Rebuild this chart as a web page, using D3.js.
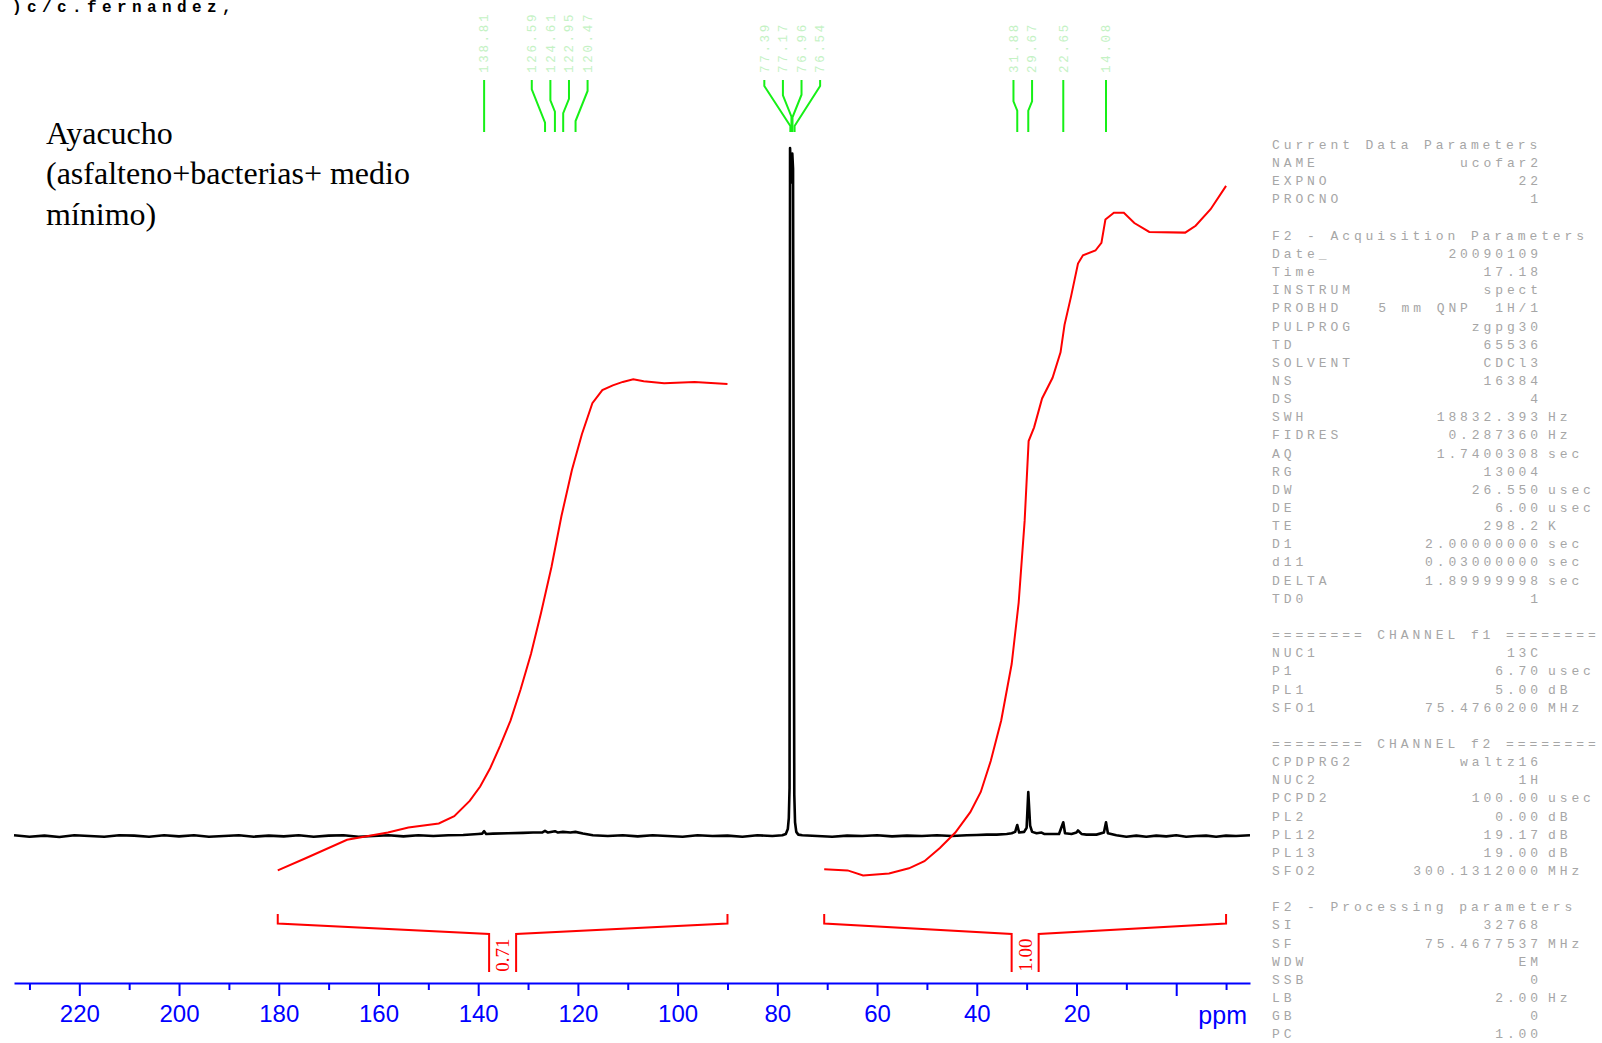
<!DOCTYPE html>
<html>
<head>
<meta charset="utf-8">
<script src="https://cdn.jsdelivr.net/npm/d3@7"></script>
<style>
  html, body { margin: 0; padding: 0; background: #fff; overflow: hidden; }
  svg { display: block; }
  .param { font-family: "Liberation Mono", "DejaVu Sans Mono", monospace; font-size: 13px; letter-spacing: 3.9px; fill: #a6a6a6; white-space: pre; }
</style>
</head>
<body>
<svg id="chart" width="1602" height="1043"></svg>
<script>
// ---- 13C spectrum: [ppm, intensity] (baseline = 0, solvent line = 100)
const spectrum = [
  [233.1, 0.1], [230, -0.1], [227, 0.05], [224, -0.15], [221, 0.1], [218, 0], [215, -0.1],
  [212, 0.1], [209, 0.05], [206, -0.1], [203, 0.1], [200, -0.05], [197, 0.1], [194, -0.1],
  [191, 0], [188, 0.1], [185, -0.1], [182, 0.05], [179, -0.05], [176, 0.1], [173, -0.1],
  [170, 0.05], [167, 0.1], [164, -0.1], [161, 0], [158, 0.1], [155, -0.05], [152, 0.1],
  [149, 0], [146, 0.1], [143, 0.15], [140, 0.3], [139.2, 0.35], [138.8, 0.7], [138.4, 0.3],
  [137, 0.35], [134, 0.4], [131, 0.45], [129, 0.5], [127.2, 0.5], [126.6, 0.75], [126, 0.5],
  [124.6, 0.7], [124, 0.5], [123, 0.6], [121.5, 0.5], [120.5, 0.6], [119, 0.35], [117, 0.1],
  [114, 0], [111, 0.1], [108, -0.05], [105, 0.1], [102, 0], [99, -0.1], [96, 0.1], [93, 0],
  [90, 0.05], [87, -0.1], [84, 0.1], [81, 0], [79, 0.1], [78.3, 0.3], [77.9, 1.0],
  [77.7, 2.6], [77.55, 7], [77.45, 100], [77.3, 97], [77.15, 95], [77.0, 99.2], [76.85, 97],
  [76.7, 40], [76.6, 6], [76.45, 2], [76.2, 0.6], [75.8, 0.2], [75, 0.1], [72, 0], [69, -0.1],
  [66, 0.05], [63, 0], [60, 0.1], [57, -0.05], [54, 0.05], [51, 0], [48, 0.1], [45, 0],
  [42, 0.1], [40, 0.15], [38, 0.2], [36, 0.2], [34, 0.3], [33, 0.4], [32.3, 0.6], [31.88, 1.6],
  [31.5, 0.5], [30.5, 0.6], [30.0, 1.2], [29.67, 6.4], [29.3, 1.5], [28.9, 0.6], [28, 0.4],
  [27, 0.5], [26.5, 0.3], [25, 0.3], [23.5, 0.3], [22.65, 2.0], [22.3, 0.4], [21, 0.3],
  [20, 0.5], [19.7, 0.8], [19, 0.3], [18, 0.2], [16, 0.2], [14.5, 0.5], [14.08, 2.0],
  [13.7, 0.4], [12, 0.1], [10, -0.1], [8, 0.05], [6, -0.1], [4, 0.05], [2, -0.05], [0, 0.1],
  [-2, -0.1], [-4, 0], [-6, 0.05], [-8, -0.1], [-10, 0.05], [-12, 0], [-14.8, 0.1]
];

// ---- integral traces: [ppm, running integral] in the same vertical units
const integralAromatic = [
  [180.2, -5.0], [174.5, -3.2], [166.3, -0.55], [158.1, 0.5], [154.0, 1.24], [147.9, 1.83],
  [144.8, 2.87], [141.7, 5.1], [139.6, 7.2], [137.6, 9.85], [135.6, 13.1], [133.5, 16.8],
  [131.5, 21.3], [129.4, 26.5], [127.4, 32.4], [125.3, 39.1], [123.3, 46.5], [121.2, 53.2],
  [119.2, 58.4], [117.1, 62.9], [115.1, 64.8], [113.0, 65.5], [111.0, 66.0], [108.9, 66.4],
  [106.8, 66.1], [102.7, 65.8], [96.6, 66.0], [90.0, 65.7]
];
const integralAliphatic = [
  [70.6, -4.85], [65.9, -5.0], [62.8, -5.75], [57.6, -5.45], [53.6, -4.7], [50.5, -3.66],
  [47.4, -1.73], [44.3, 0.5], [41.3, 3.46], [39.2, 6.4], [37.2, 10.9], [35.1, 16.8],
  [33.0, 25.0], [31.6, 33.9], [30.4, 45.8], [29.6, 57.4], [28.5, 59.4], [26.9, 63.6],
  [24.8, 66.6], [23.2, 70.3], [22.4, 74.3], [21.1, 78.4], [19.7, 83.2], [18.7, 84.4],
  [16.2, 85.1], [15.0, 86.2], [14.2, 89.6], [12.5, 90.6], [10.5, 90.6], [8.4, 89.1],
  [5.4, 87.8], [-1.8, 87.7], [-3.9, 88.7], [-6.9, 91.1], [-10.0, 94.5]
];

// ---- integral regions and their normalised values
const integralRegions = [
  { from: 180.2, to: 90.0, value: 0.71 },
  { from: 70.6, to: -10.0, value: 1.00 }
];

// ---- peak picking list
const peakList = [138.81, 126.59, 124.61, 122.95, 120.47, 77.39, 77.17, 76.96, 76.54, 31.88, 29.67, 22.65, 14.08];

// ---- axis ticks
const majorTicks = [220, 200, 180, 160, 140, 120, 100, 80, 60, 40, 20, 0];
const minorTicks = [230, 210, 190, 170, 150, 130, 110, 90, 70, 50, 30, 10, -10];

// ---- annotation text
const operatorLine = ")c/c.fernandez,";
const sampleLines = ["Ayacucho", "(asfalteno+bacterias+ medio", "mínimo)"];

// ---- acquisition / processing parameter block: [label, value, unit]
const paramLines = [
  ["Current Data Parameters"], ["NAME", "ucofar2"], ["EXPNO", "22"], ["PROCNO", "1"], [""],
  ["F2 - Acquisition Parameters"], ["Date_", "20090109"], ["Time", "17.18"], ["INSTRUM", "spect"],
  ["PROBHD", "5 mm QNP  1H/1"], ["PULPROG", "zgpg30"], ["TD", "65536"], ["SOLVENT", "CDCl3"],
  ["NS", "16384"], ["DS", "4"], ["SWH", "18832.393", "Hz"], ["FIDRES", "0.287360", "Hz"],
  ["AQ", "1.7400308", "sec"], ["RG", "13004"], ["DW", "26.550", "usec"], ["DE", "6.00", "usec"],
  ["TE", "298.2", "K"], ["D1", "2.00000000", "sec"], ["d11", "0.03000000", "sec"],
  ["DELTA", "1.89999998", "sec"], ["TD0", "1"], [""],
  ["======== CHANNEL f1 ========"], ["NUC1", "13C"], ["P1", "6.70", "usec"], ["PL1", "5.00", "dB"],
  ["SFO1", "75.4760200", "MHz"], [""],
  ["======== CHANNEL f2 ========"], ["CPDPRG2", "waltz16"], ["NUC2", "1H"], ["PCPD2", "100.00", "usec"],
  ["PL2", "0.00", "dB"], ["PL12", "19.17", "dB"], ["PL13", "19.00", "dB"], ["SFO2", "300.1312000", "MHz"], [""],
  ["F2 - Processing parameters"], ["SI", "32768"], ["SF", "75.4677537", "MHz"], ["WDW", "EM"],
  ["SSB", "0"], ["LB", "2.00", "Hz"], ["GB", "0"], ["PC", "1.00"]
];

// ================= drawing =================
const svg = d3.select("#chart");
svg.append("rect").attr("width", 1602).attr("height", 1043).attr("fill", "#fff");

const x = d3.scaleLinear().domain([233.1, -14.8]).range([14, 1250]);
const y = d3.scaleLinear().domain([0, 100]).range([836, 148]);
const yInt = d3.scaleLinear().domain([0, 100]).range([836, 148]);

// operator header
svg.append("text")
  .attr("x", 12).attr("y", 12)
  .attr("font-family", "Liberation Mono, monospace").attr("font-weight", "bold")
  .attr("font-size", 16).attr("letter-spacing", 5.4)
  .attr("fill", "#000").text(operatorLine);

// sample description
svg.append("g").selectAll("text").data(sampleLines).join("text")
  .attr("x", 46).attr("y", (d, i) => 144 + i * 40.4)
  .attr("font-family", "Liberation Serif, Times New Roman, serif")
  .attr("font-size", 32).attr("fill", "#000")
  .text(d => d);

// spectrum trace
svg.append("path")
  .datum(spectrum)
  .attr("fill", "none").attr("stroke", "#000").attr("stroke-width", 2.6)
  .attr("stroke-linejoin", "round")
  .attr("d", d3.line().x(d => x(d[0])).y(d => y(d[1])));

// integral traces
[integralAromatic, integralAliphatic].forEach(tr => {
  svg.append("path").datum(tr)
    .attr("fill", "none").attr("stroke", "#ff0000").attr("stroke-width", 2)
    .attr("d", d3.line().x(d => x(d[0])).y(d => yInt(d[1])));
});

// integral brackets with values
const bracketTop = 914, bracketEnd = 923.5, bracketMid = 934, barBottom = 972, halfGap = 13.5;
const br = svg.append("g").attr("fill", "none").attr("stroke", "#ff0000").attr("stroke-width", 2);
integralRegions.forEach(r => {
  const x0 = x(r.from), x1 = x(r.to), xc = (x0 + x1) / 2;
  br.append("path").attr("d",
    `M${x0},${bracketTop}V${bracketEnd}L${xc - halfGap},${bracketMid}V${barBottom}` +
    `M${xc + halfGap},${barBottom}V${bracketMid}L${x1},${bracketEnd}V${bracketTop}`);
  svg.append("text")
    .attr("transform", `translate(${xc},${955}) rotate(-90)`)
    .attr("text-anchor", "middle").attr("dy", "0.35em")
    .attr("font-family", "Liberation Serif, serif").attr("font-size", 19)
    .attr("fill", "#ff0000").text(r.value.toFixed(2));
});

// peak labels: spread labels apart so they don't overlap
const minGap = 18.6;
const sorted = peakList.map(p => ({ p, px: x(p) })).sort((a, b) => a.px - b.px);
let groups = sorted.map(d => ({ items: [d], center: d.px }));
let merged = true;
while (merged) {
  merged = false;
  for (let i = 0; i < groups.length - 1; i++) {
    const a = groups[i], b = groups[i + 1];
    const aR = a.center + (a.items.length - 1) * minGap / 2;
    const bL = b.center - (b.items.length - 1) * minGap / 2;
    if (bL - aR < minGap) {
      const items = a.items.concat(b.items);
      groups.splice(i, 2, { items, center: d3.mean(items, d => d.px) });
      merged = true;
      break;
    }
  }
}
groups.forEach(g => g.items.forEach((d, i) => {
  d.lx = g.center + (i - (g.items.length - 1) / 2) * minGap;
}));

const pk = svg.append("g");
sorted.forEach(d => {
  const dx = Math.abs(d.lx - d.px);
  const dy = Math.max(4, Math.min(40, 2.5 * dx));
  const yA = 80, yB = 132, yc = 106;
  pk.append("path")
    .attr("d", `M${d.lx},${yA}V${yc - dy / 2}L${d.px},${yc + dy / 2}V${yB}`)
    .attr("fill", "none").attr("stroke", "#16f016").attr("stroke-width", 2);
  pk.append("text")
    .attr("transform", `translate(${d.lx},73) rotate(-90)`)
    .attr("dy", "0.35em")
    .attr("font-family", "Liberation Mono, monospace").attr("font-size", 12.5)
    .attr("letter-spacing", 2.7)
    .attr("fill", "#c4f2c4").text(d.p.toFixed(2));
});

// ppm axis
const axisY = 983;
const ax = svg.append("g").attr("transform", `translate(0,${axisY})`);
ax.call(d3.axisBottom(x).tickValues(majorTicks).tickSize(13).tickSizeOuter(0).tickPadding(9)
  .tickFormat(d => d === 0 ? "" : d));
ax.select(".domain").attr("stroke", "#0000ff").attr("stroke-width", 2);
ax.selectAll(".tick line").attr("stroke", "#0000ff").attr("stroke-width", 2);
ax.selectAll(".tick text").attr("fill", "#0000ff")
  .attr("font-family", "Liberation Sans, Arial, sans-serif").attr("font-size", 24);
const axm = svg.append("g").attr("transform", `translate(0,${axisY})`);
axm.call(d3.axisBottom(x).tickValues(minorTicks).tickSize(7).tickSizeOuter(0).tickFormat(""));
axm.select(".domain").remove();
axm.selectAll(".tick line").attr("stroke", "#0000ff").attr("stroke-width", 2);
svg.append("text")
  .attr("x", 1247).attr("y", 1024).attr("text-anchor", "end")
  .attr("font-family", "Liberation Sans, Arial, sans-serif").attr("font-size", 25)
  .attr("fill", "#0000ff").text("ppm");

// parameter block
const pg = svg.append("g");
const p0 = 149, pStep = 18.15;
paramLines.forEach((row, i) => {
  const yy = p0 + i * pStep;
  if (row[0]) pg.append("text").attr("class", "param").attr("x", 1272).attr("y", yy).text(row[0]);
  if (row[1]) pg.append("text").attr("class", "param").attr("x", 1542).attr("y", yy)
    .attr("text-anchor", "end").text(row[1]);
  if (row[2]) pg.append("text").attr("class", "param").attr("x", 1548).attr("y", yy).text(row[2]);
});
</script>
</body>
</html>
